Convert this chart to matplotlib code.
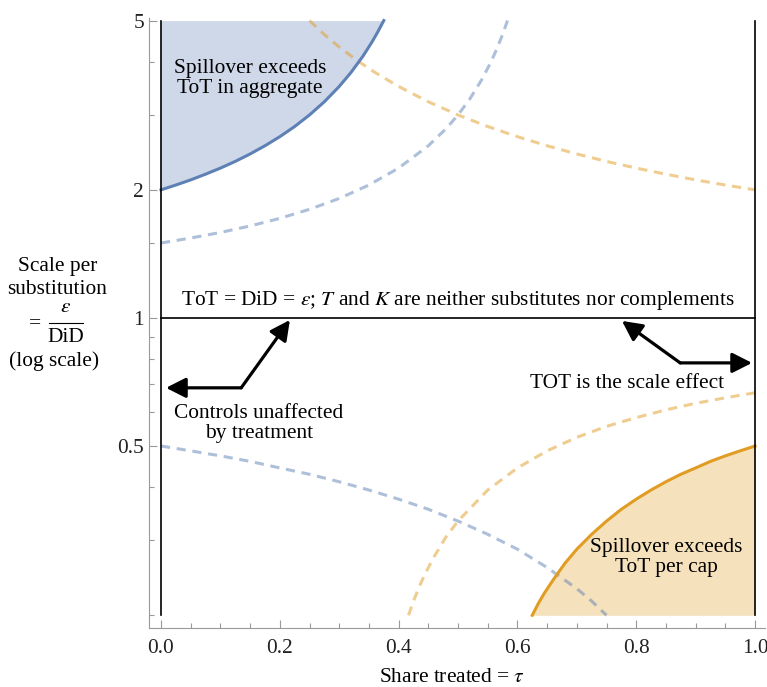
import matplotlib
matplotlib.use("Agg")
import matplotlib.pyplot as plt
from matplotlib.lines import Line2D

plt.rcParams['font.family'] = ['Liberation Serif', 'DejaVu Serif']
plt.rcParams['mathtext.fontset'] = 'stix'

# --- curves (tau, scale per substitution) ---
# spillover exceeds ToT in aggregate (blue, solid boundary)
agg_tau = [0, 0.025, 0.05, 0.075, 0.1, 0.125, 0.15, 0.175, 0.2, 0.225, 0.25,
           0.275, 0.3, 0.32, 0.34, 0.355, 0.365, 0.375]
agg_val = [2.0, 2.053, 2.111, 2.177, 2.25, 2.333, 2.429, 2.539, 2.667, 2.818, 3.0,
           3.222, 3.5, 3.778, 4.125, 4.448, 4.704, 5.0]

# spillover exceeds ToT per cap (orange, solid boundary)
cap_tau = [0.625, 0.635, 0.645, 0.66, 0.68, 0.7, 0.725, 0.75, 0.775, 0.8,
           0.825, 0.85, 0.875, 0.9, 0.925, 0.95, 0.975, 1.0]
cap_val = [0.2, 0.213, 0.225, 0.242, 0.265, 0.286, 0.310, 0.333, 0.355, 0.375,
           0.394, 0.412, 0.429, 0.444, 0.460, 0.474, 0.487, 0.5]

# dashed guides
blue_hi_tau = [0, 0.05, 0.1, 0.15, 0.2, 0.25, 0.3, 0.35, 0.4, 0.45, 0.48, 0.5,
               0.52, 0.54, 0.555, 0.565, 0.575, 0.5833]
blue_hi_val = [1.5, 1.541, 1.588, 1.645, 1.714, 1.8, 1.909, 2.053, 2.25, 2.539, 2.786, 3.0,
               3.273, 3.632, 3.985, 4.279, 4.636, 5.0]

blue_lo_tau = [0, 0.05, 0.1, 0.15, 0.2, 0.25, 0.3, 0.35, 0.4, 0.45, 0.5, 0.55,
               0.6, 0.65, 0.7, 0.725, 0.75]
blue_lo_val = [0.5, 0.487, 0.474, 0.460, 0.444, 0.429, 0.412, 0.394, 0.375, 0.355, 0.333, 0.310,
               0.286, 0.259, 0.231, 0.216, 0.2]

orange_hi_tau = [0.25, 0.275, 0.3, 0.33, 0.36, 0.4, 0.45, 0.5, 0.55, 0.6, 0.65,
                 0.7, 0.75, 0.8, 0.85, 0.9, 0.95, 1.0]
orange_hi_val = [5.0, 4.636, 4.333, 4.030, 3.778, 3.5, 3.222, 3.0, 2.818, 2.667, 2.539,
                 2.429, 2.333, 2.25, 2.177, 2.111, 2.053, 2.0]

orange_lo_tau = [0.4167, 0.425, 0.435, 0.445, 0.46, 0.48, 0.5, 0.55, 0.6, 0.65,
                 0.7, 0.75, 0.8, 0.85, 0.9, 0.95, 1.0]
orange_lo_val = [0.2, 0.216, 0.234, 0.251, 0.275, 0.306, 0.333, 0.394, 0.444, 0.487,
                 0.524, 0.556, 0.583, 0.608, 0.630, 0.649, 0.667]

x_ticks = [0.0, 0.2, 0.4, 0.6, 0.8, 1.0]
x_labels = ["0.0", "0.2", "0.4", "0.6", "0.8", "1.0"]
x_minor = [0.05, 0.1, 0.15, 0.25, 0.3, 0.35, 0.45, 0.5, 0.55, 0.65, 0.7, 0.75, 0.85, 0.9, 0.95]
y_ticks = [0.5, 1, 2, 5]
y_labels = ["0.5", "1", "2", "5"]
y_minor = [0.2, 0.3, 0.4, 0.6, 0.7, 0.8, 0.9, 1.5, 3, 4]

BLUE = "#5E81B5"
ORANGE = "#E19C24"
FS = 15.4
W, H = 767, 687

fig = plt.figure(figsize=(7.67, 6.87), dpi=100)
ax = fig.add_axes([149 / W, 1 - 628 / H, (765 - 149) / W, (628 - 18) / H])
ax.set_yscale('log')
ax.set_xlim(-0.0202, 1.0168)
ax.set_ylim(0.1867, 5.07)

# shaded regions
ax.fill_between(agg_tau, agg_val, 5, color=BLUE, alpha=0.3, lw=0)
ax.fill_between(cap_tau, 0.2, cap_val, color=ORANGE, alpha=0.3, lw=0)

dash = (3.0, 2.2)
for xs, ys, c in [(blue_hi_tau, blue_hi_val, BLUE), (blue_lo_tau, blue_lo_val, BLUE),
                  (orange_hi_tau, orange_hi_val, ORANGE), (orange_lo_tau, orange_lo_val, ORANGE)]:
    ax.plot(xs, ys, color=c, alpha=0.5, lw=2.2, dashes=dash)

ax.plot(agg_tau, agg_val, color=BLUE, lw=2.2)
ax.plot(cap_tau, cap_val, color=ORANGE, lw=2.2)

# frame lines at tau=0, tau=1 and the neutral line
ax.plot([0, 0], [0.2, 5], color='black', lw=1.2)
ax.plot([1, 1], [0.2, 5], color='black', lw=1.2)
ax.plot([0, 1], [1, 1], color='black', lw=1.2)

# text
ax.text(0.15, 3.66, "Spillover exceeds\nToT in aggregate", ha='center', va='center',
        fontsize=FS, linespacing=1.1)
ax.text(0.851, 0.273, "Spillover exceeds\nToT per cap", ha='center', va='center',
        fontsize=FS, linespacing=1.1)
ax.text(0.5, 1.10, r"ToT = DiD = $\varepsilon$; $T$ and $K$ are neither substitutes nor complements",
        ha='center', va='center', fontsize=FS)
ax.text(0.785, 0.703, "TOT is the scale effect", ha='center', va='center', fontsize=FS)
ax.text(0.165, 0.565, "Controls unaffected\nby treatment", ha='center', va='center',
        fontsize=FS, linespacing=1.1)

# arrows
ahead = dict(arrowstyle='-|>,head_length=0.75,head_width=0.38', color='black', lw=2.3,
             mutation_scale=16, shrinkA=0, shrinkB=0)
ax.annotate('', xy=(0.0084, 0.685), xytext=(0.135, 0.685), arrowprops=ahead)
ax.annotate('', xy=(0.217, 0.989), xytext=(0.135, 0.685), arrowprops=ahead)
ax.annotate('', xy=(0.776, 0.984), xytext=(0.874, 0.784), arrowprops=ahead)
ax.annotate('', xy=(0.995, 0.784), xytext=(0.874, 0.784), arrowprops=ahead)

# axes styling
for s in ['top', 'right']:
    ax.spines[s].set_visible(False)
for s in ['left', 'bottom']:
    ax.spines[s].set_color('#999999')
    ax.spines[s].set_linewidth(0.8)
ax.set_xticks(x_ticks)
ax.set_xticklabels(x_labels)
ax.set_xticks(x_minor, minor=True)
ax.set_yticks(y_ticks)
ax.set_yticklabels(y_labels)
ax.set_yticks(y_minor, minor=True)
ax.yaxis.set_minor_formatter(matplotlib.ticker.NullFormatter())
ax.tick_params(which='both', direction='in', color='#999999', labelsize=FS, labelcolor='#222222')
ax.tick_params(which='major', length=6, width=0.8)
ax.tick_params(which='minor', length=3.5, width=0.8)
ax.tick_params(axis='x', which='major', pad=8)
ax.tick_params(axis='y', which='major', pad=3.5)

# x label
fig.text(452 / W, 1 - 677 / H, r"Share treated = $\tau$", ha='center', va='center', fontsize=FS)

# y label block
fig.text(58 / W, 1 - 266 / H, "Scale per", ha='center', va='center', fontsize=FS)
fig.text(57 / W, 1 - 290 / H, "substitution", ha='center', va='center', fontsize=FS)
fig.text(35 / W, 1 - 324 / H, "=", ha='center', va='center', fontsize=FS)
fig.text(66 / W, 1 - 308 / H, r"$\varepsilon$", ha='center', va='center', fontsize=FS)
fig.add_artist(Line2D([49 / W, 83 / W], [1 - 323 / H, 1 - 323 / H], color='black', lw=0.8,
                      transform=fig.transFigure))
fig.text(66 / W, 1 - 338 / H, "DiD", ha='center', va='center', fontsize=FS)
fig.text(54 / W, 1 - 361 / H, "(log scale)", ha='center', va='center', fontsize=FS)

fig.savefig("out.png", dpi=100)
